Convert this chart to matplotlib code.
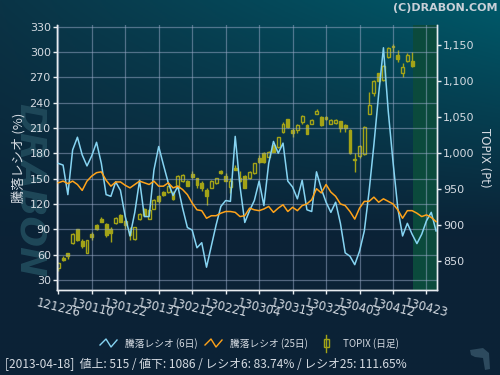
import numpy as np
import matplotlib
matplotlib.use("Agg")
import matplotlib.pyplot as plt
from matplotlib.patches import Rectangle, Polygon
from matplotlib.lines import Line2D

# 騰落レシオ (6日 / 25日)
ratio6 = [168, 166, 131, 184, 199, 178, 165, 177, 193, 168,
          131, 129, 146, 136, 105, 82, 110, 148, 105, 105,
          160, 188, 166, 145, 130, 141, 115, 92, 89, 68,
          74, 45, 70, 95, 117, 124, 123, 200, 141, 98,
          112, 124, 147, 118, 168, 194, 180, 192, 147, 140,
          126, 148, 113, 111, 158, 138, 122, 110, 122, 97,
          62, 58, 48, 64, 88, 135, 190, 250, 305, 230,
          170, 115, 82, 97, 84, 73, 84, 100, 110, 88]
ratio25 = [145, 147, 144, 147, 143, 136, 147, 153, 157, 158,
           148, 141, 146, 146, 142, 139, 143, 147, 145, 143,
           147, 141, 141, 145, 139, 141, 137, 131, 121, 113,
           112, 103, 106, 106, 109, 111, 111, 110, 105, 106,
           115, 113, 112, 114, 117, 110, 115, 119, 111, 116,
           112, 118, 120, 125, 138, 133, 143, 134, 129, 120,
           118, 111, 102, 115, 123, 123, 128, 122, 126, 123,
           120, 113, 103, 112, 112, 109, 105, 107, 104, 99]

# TOPIX 日足
opens = [840, 855, 861, 875, 894, 878, 862, 888, 900, 909,
         902, 894, 903, 914, 906, 892, 881, 908, 923, 909,
         923, 940, 946, 946, 944, 952, 962, 962, 971, 965,
         958, 949, 952, 958, 975, 968, 953, 980, 966, 968,
         965, 972, 993, 1000, 995, 1011, 1008, 1030, 1047, 1032,
         1032, 1043, 1039, 1041, 1055, 1050, 1050, 1041, 1042, 1044,
         1039, 1032, 991, 996, 999, 1055, 1084, 1111, 1101, 1133,
         1149, 1137, 1112, 1128, 1128]
closes = [847, 851, 857, 888, 879, 871, 879, 883, 895, 905,
          886, 889, 910, 905, 900, 886, 897, 916, 914, 921,
          935, 934, 942, 954, 937, 968, 969, 955, 967, 956,
          952, 941, 962, 965, 972, 962, 962, 977, 962, 952,
          974, 986, 988, 988, 1002, 1002, 1022, 1040, 1036, 1028,
          1039, 1051, 1027, 1046, 1059, 1039, 1047, 1046, 1046, 1035,
          1035, 1000, 990, 1010, 1037, 1067, 1100, 1100, 1121, 1146,
          1147, 1131, 1120, 1136, 1121]
highs = [849, 857, 862, 889, 895, 881, 880, 890, 902, 911,
         903, 897, 911, 915, 907, 897, 898, 917, 924, 922,
         936, 942, 947, 955, 947, 969, 971, 963, 975, 966,
         961, 951, 963, 966, 977, 972, 965, 983, 975, 969,
         975, 987, 998, 1001, 1003, 1012, 1023, 1043, 1048, 1035,
         1041, 1053, 1040, 1047, 1061, 1051, 1051, 1047, 1047, 1045,
         1040, 1033, 1000, 1012, 1038, 1085, 1101, 1112, 1122, 1147,
         1152, 1143, 1125, 1139, 1140]
lows = [837, 850, 853, 874, 878, 868, 861, 880, 893, 904,
        884, 876, 902, 904, 895, 880, 880, 907, 913, 908,
        922, 931, 940, 945, 935, 951, 960, 954, 966, 952,
        948, 928, 951, 957, 971, 961, 944, 976, 960, 951,
        964, 971, 986, 987, 994, 1001, 1007, 1028, 1035, 1022,
        1028, 1041, 1026, 1040, 1054, 1038, 1046, 1040, 1041, 1030,
        1030, 999, 974, 993, 997, 1054, 1080, 1099, 1100, 1132,
        1140, 1126, 1106, 1127, 1120]

date_labels = ['121226', '130110', '130122', '130131', '130212', '130221',
               '130304', '130313', '130325', '130403', '130412', '130423']
date_pos = [0, 7, 14, 21, 28, 35, 42, 49, 56, 63, 70, 77]

jp = ['Noto Sans CJK JP', 'DejaVu Sans']
txt = '#d5dbe2'
blue = '#86d4f2'
orange = '#ffa31a'
olive = '#a3a317'

fig = plt.figure(figsize=(5, 3.75), dpi=100)

# background gradient
h, w = 150, 200
yy, xx = np.mgrid[0:1:h*1j, 0:1:w*1j]
top_l = np.array([0x0a, 0x34, 0x46]) / 255
top_r = np.array([0x00, 0x5a, 0x6a]) / 255
bot = np.array([0x0b, 0x22, 0x36]) / 255
topc = top_l[None, None, :] * (1 - xx[..., None]) + top_r[None, None, :] * xx[..., None]
t = np.clip(yy * 1.6, 0, 1)[..., None]
grad = topc * (1 - t) + bot[None, None, :] * t
bg = fig.add_axes([0, 0, 1, 1])
bg.imshow(grad, aspect='auto', extent=[0, 1, 0, 1], origin='upper')
bg.axis('off')

# watermark
fig.text(30 / 500, 1 - 190 / 375, 'DRABON', rotation=-90, fontsize=26, fontweight='bold',
         style='italic', color='#1f4859', ha='center', va='center', zorder=0)

ax = fig.add_axes([0.114, 0.2267, 0.76, 0.7067])
ax2 = ax.twinx()
ax.set_zorder(ax2.get_zorder() + 1)
ax.patch.set_visible(False)
ax2.set_facecolor('#1b3461')

x_line = np.arange(len(ratio6))
x_candle = np.arange(len(opens))

# future zone
ax2.axvspan(74.1, 80, color='#0b4a3c', zorder=0.5, lw=0)

# candles
for i, o, hi_, lo_, c in zip(x_candle, opens, highs, lows, closes):
    b0, b1 = min(o, c), max(o, c)
    ax2.vlines(i, lo_, b0, color=olive, lw=1, zorder=2)
    ax2.vlines(i, b1, hi_, color=olive, lw=1, zorder=2)
    ax2.add_patch(Rectangle((i - 0.3, b0), 0.6, max(b1 - b0, 1.5),
                            facecolor=olive if c < o else 'none',
                            edgecolor=olive, lw=1, zorder=2))

ax.plot(x_line, ratio6, color=blue, lw=1.1, zorder=3)
ax.plot(x_line, ratio25, color=orange, lw=1.1, zorder=3)

ax.set_xlim(-0.27, 79.2)
ax.set_ylim(18, 332)
ax2.set_ylim(810, 1178)
ax.set_yticks(range(30, 331, 30))
ax2.set_yticks(range(850, 1151, 50))
ax2.set_yticklabels([f'{v:,}' for v in range(850, 1151, 50)])
ax.set_xticks(date_pos)
ax.set_xticklabels(date_labels, rotation=-14, ha='center')

ax.grid(True, color='#9aaac8', alpha=0.5, lw=0.9)

for a in (ax, ax2):
    a.spines['top'].set_visible(False)
    for s in ('left', 'right', 'bottom'):
        a.spines[s].set_color('#e8ecf0')
        a.spines[s].set_linewidth(1)
    a.tick_params(colors='#e8ecf0', labelcolor=txt, labelsize=8, length=3, width=1, pad=1.5)
ax.tick_params(axis='x', labelsize=8.5)

ax.set_ylabel('騰落レシオ (%)', family=jp, fontsize=9.5, color=txt, labelpad=3)
ax2.set_ylabel('TOPIX (Pt)', fontsize=8.5, color=txt, rotation=-90, labelpad=12)

# title / copyright
fig.text(497 / 500, 1 - 8 / 375, '(C)DRABON.COM', ha='right', va='center',
         fontsize=8, fontweight='bold', color='#c8d0d8')

# legend
def fx(px):
    return px / 500

def fy(py):
    return 1 - py / 375

for x0, col in ((100, blue), (205, orange)):
    fig.add_artist(Line2D([fx(x0), fx(x0 + 6), fx(x0 + 11), fx(x0 + 17)],
                          [fy(345), fy(339), fy(347), fy(340)],
                          color=col, lw=1, transform=fig.transFigure))
fig.add_artist(Line2D([fx(326), fx(326)], [fy(335), fy(352)], color=olive, lw=1,
                      transform=fig.transFigure))
fig.add_artist(Rectangle((fx(323.5), fy(347)), 5 / 500, 8 / 375, facecolor='#0f2a3c',
                         edgecolor=olive, lw=1, transform=fig.transFigure))
fig.text(fx(125), fy(344), '騰落レシオ (6日)', family=jp, fontsize=7, color=txt, va='center')
fig.text(fx(230), fy(344), '騰落レシオ (25日)', family=jp, fontsize=7, color=txt, va='center')
fig.text(fx(343), fy(344), 'TOPIX (日足)', family=jp, fontsize=7, color=txt, va='center')

# footer
fig.text(fx(5), fy(365), '[2013-04-18]  値上: 515 / 値下: 1086 / レシオ6: 83.74% / レシオ25: 111.65%',
         family=jp, fontsize=8.6, color=txt, va='center')

# small logo bottom-right
fig.add_artist(Polygon([(fx(470), fy(350)), (fx(483), fy(348)), (fx(489), fy(353)),
                        (fx(490), fy(369)), (fx(485), fy(370)), (fx(483), fy(358)),
                        (fx(475), fy(357)), (fx(471), fy(355))],
                       closed=True, facecolor='#2d4a5e', edgecolor='none',
                       transform=fig.transFigure))

fig.savefig('out.png', dpi=100)
